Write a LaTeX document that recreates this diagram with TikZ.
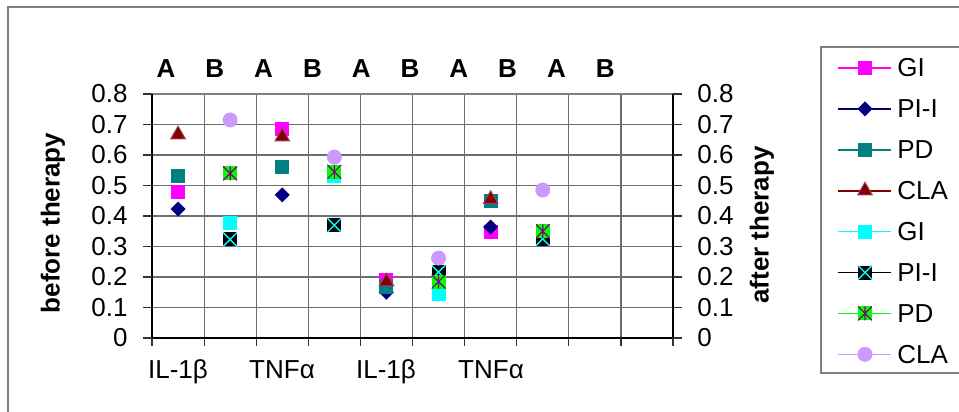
\documentclass[tikz,border=0pt]{standalone}
\usepackage{fontspec}
\setmainfont{Liberation Sans}
\usetikzlibrary{shapes.geometric}

\definecolor{xlmagenta}{RGB}{255,0,255}
\definecolor{xlnavy}{RGB}{0,0,128}
\definecolor{xlteal}{RGB}{0,128,128}
\definecolor{xlmaroon}{RGB}{128,0,0}
\definecolor{xlrose}{RGB}{165,60,95}
\definecolor{xlcyan}{RGB}{0,255,255}
\definecolor{xllime}{RGB}{0,255,0}
\definecolor{xlpurple}{RGB}{128,0,128}
\definecolor{xllav}{RGB}{204,153,255}
\definecolor{xlgrid}{RGB}{110,110,110}

\tikzset{
  mk/.style={inner sep=0, outer sep=0, minimum size=7pt},
  gia/.style={mk, rectangle, fill=xlmagenta},
  pia/.style={mk, diamond, fill=xlnavy, minimum size=7.5pt},
  pda/.style={mk, rectangle, fill=xlteal},
  claa/.style={mk, regular polygon, regular polygon sides=3, fill=xlmaroon, draw=xlrose, line width=0.5pt, minimum size=8.4pt},
  gib/.style={mk, rectangle, fill=xlcyan},
  pib/.style={mk, rectangle, fill=black, path picture={
    \draw[xlcyan, line width=0.7pt] (path picture bounding box.south west) -- (path picture bounding box.north east)
      (path picture bounding box.north west) -- (path picture bounding box.south east);}},
  pdb/.style={mk, rectangle, fill=xllime, path picture={
    \draw[xlpurple, line width=0.6pt] (path picture bounding box.south west) -- (path picture bounding box.north east)
      (path picture bounding box.north west) -- (path picture bounding box.south east)
      (path picture bounding box.north) -- (path picture bounding box.south);}},
  clab/.style={mk, circle, fill=xllav, minimum size=7.5pt},
  lbl/.style={font=\fontsize{13}{15}\selectfont, inner sep=0},
  blbl/.style={font=\fontsize{13}{15}\selectfont\bfseries, inner sep=0},
  num/.style={font=\fontsize{13}{15}\selectfont, inner sep=0},
  tk/.style={black!80, line width=0.6pt}
}

\begin{document}
\begin{tikzpicture}[x=0.5pt, y=-0.5pt]
%\draw[help lines] (0,0) grid (959,412);
\useasboundingbox (0,0) rectangle (959,412);
\clip (0,0) rectangle (959,412);
\draw[gray, line width=0.6pt] (8,7) rectangle (980,430);

% plot area
\begin{scope}[shift={(152,338)}, x=26.05pt, y=152.5pt]
\foreach \v in {0.1,0.2,...,0.75} \draw[xlgrid, line width=0.6pt] (0,\v) -- (10,\v);
\foreach \c in {1,...,9} \draw[xlgrid, line width=0.6pt] (\c,0) -- (\c,0.8);
\draw[gray, line width=1pt] (0,0.8) -- (10,0.8);
\draw[black, line width=1pt] (10,0.8) -- (10,0) -- (0,0) -- (0,0.8);

% before therapy
\foreach \c/\v [count=\i] in {1/0.479,3/0.684,5/0.19,7/0.348} \node[gia] (gia\i) at (\c-0.5,\v) {};
\foreach \c/\v [count=\i] in {1/0.423,3/0.469,5/0.15,7/0.364} \node[pia] (pia\i) at (\c-0.5,\v) {};
\foreach \c/\v [count=\i] in {1/0.53,3/0.56,5/0.167,7/0.45} \node[pda] (pda\i) at (\c-0.5,\v) {};
\foreach \c/\v [count=\i] in {1/0.667,3/0.66,5/0.185,7/0.455} \node[claa] (claa\i) at (\c-0.5,\v) {};
% after therapy
\foreach \c/\v [count=\i] in {2/0.378,4/0.53,6/0.145,8/0.335} \node[gib] (gib\i) at (\c-0.5,\v) {};
\foreach \c/\v [count=\i] in {2/0.323,4/0.37,6/0.216,8/0.325} \node[pib] (pib\i) at (\c-0.5,\v) {};
\foreach \c/\v [count=\i] in {2/0.54,4/0.545,6/0.185,8/0.35} \node[pdb] (pdb\i) at (\c-0.5,\v) {};
\foreach \c/\v [count=\i] in {2/0.715,4/0.593,6/0.262,8/0.485} \node[clab] (clab\i) at (\c-0.5,\v) {};
\end{scope}

% ticks and scales
\foreach \k in {0,...,8} {
  \draw[tk] (143,{338-30.5*\k}) -- (152,{338-30.5*\k});
  \draw[tk] (673,{338-30.5*\k}) -- (682,{338-30.5*\k});
}
\foreach \j in {0,...,10} \draw[tk] ({152+52.1*\j},338) -- ({152+52.1*\j},346);
\foreach \t [count=\k from 0] in {0,0.1,0.2,0.3,0.4,0.5,0.6,0.7,0.8} {
  \node[num, anchor=east] (l\k) at (128,{338-30.5*\k}) {\t};
  \node[num, anchor=west] (r\k) at (697,{338-30.5*\k}) {\t};
}
\node[blbl, rotate=90] (before) at (53,223) {before therapy};
\node[blbl, rotate=90] (after) at (762,225) {after therapy};

\foreach \t [count=\i] in {A,B,A,B,A,B,A,B,A,B}
  \node[blbl, anchor=base] (top\i) at ({166+48.8*(\i-1)},77) {\t};
\foreach \t/\x [count=\i] in {IL-1β/178,TNFα/282,IL-1β/386,TNFα/491}
  \node[lbl, anchor=base] (cat\i) at (\x,378) {\t};

% legend
\draw[gray, line width=0.6pt] (821,47) rectangle (990,373);
\foreach \st/\co/\tx [count=\i] in {gia/xlmagenta/GI, pia/xlnavy/PI-I, pda/xlteal/PD, claa/xlmaroon/CLA,
    gib/xlcyan/GI, pib/black/PI-I, pdb/xllime/PD, clab/xllav/CLA} {
  \coordinate (ls\i) at (838,{68+40.9*(\i-1)});
  \coordinate (le\i) at (891,{68+40.9*(\i-1)});
  \draw[\co, line width=0.8pt] (ls\i) -- (le\i);
  \node[\st] (lm\i) at (865,{68+40.9*(\i-1)}) {};
  \node[lbl, anchor=west] (lt\i) at (897,{68+40.9*(\i-1)}) {\tx};
}
\end{tikzpicture}
\end{document}
